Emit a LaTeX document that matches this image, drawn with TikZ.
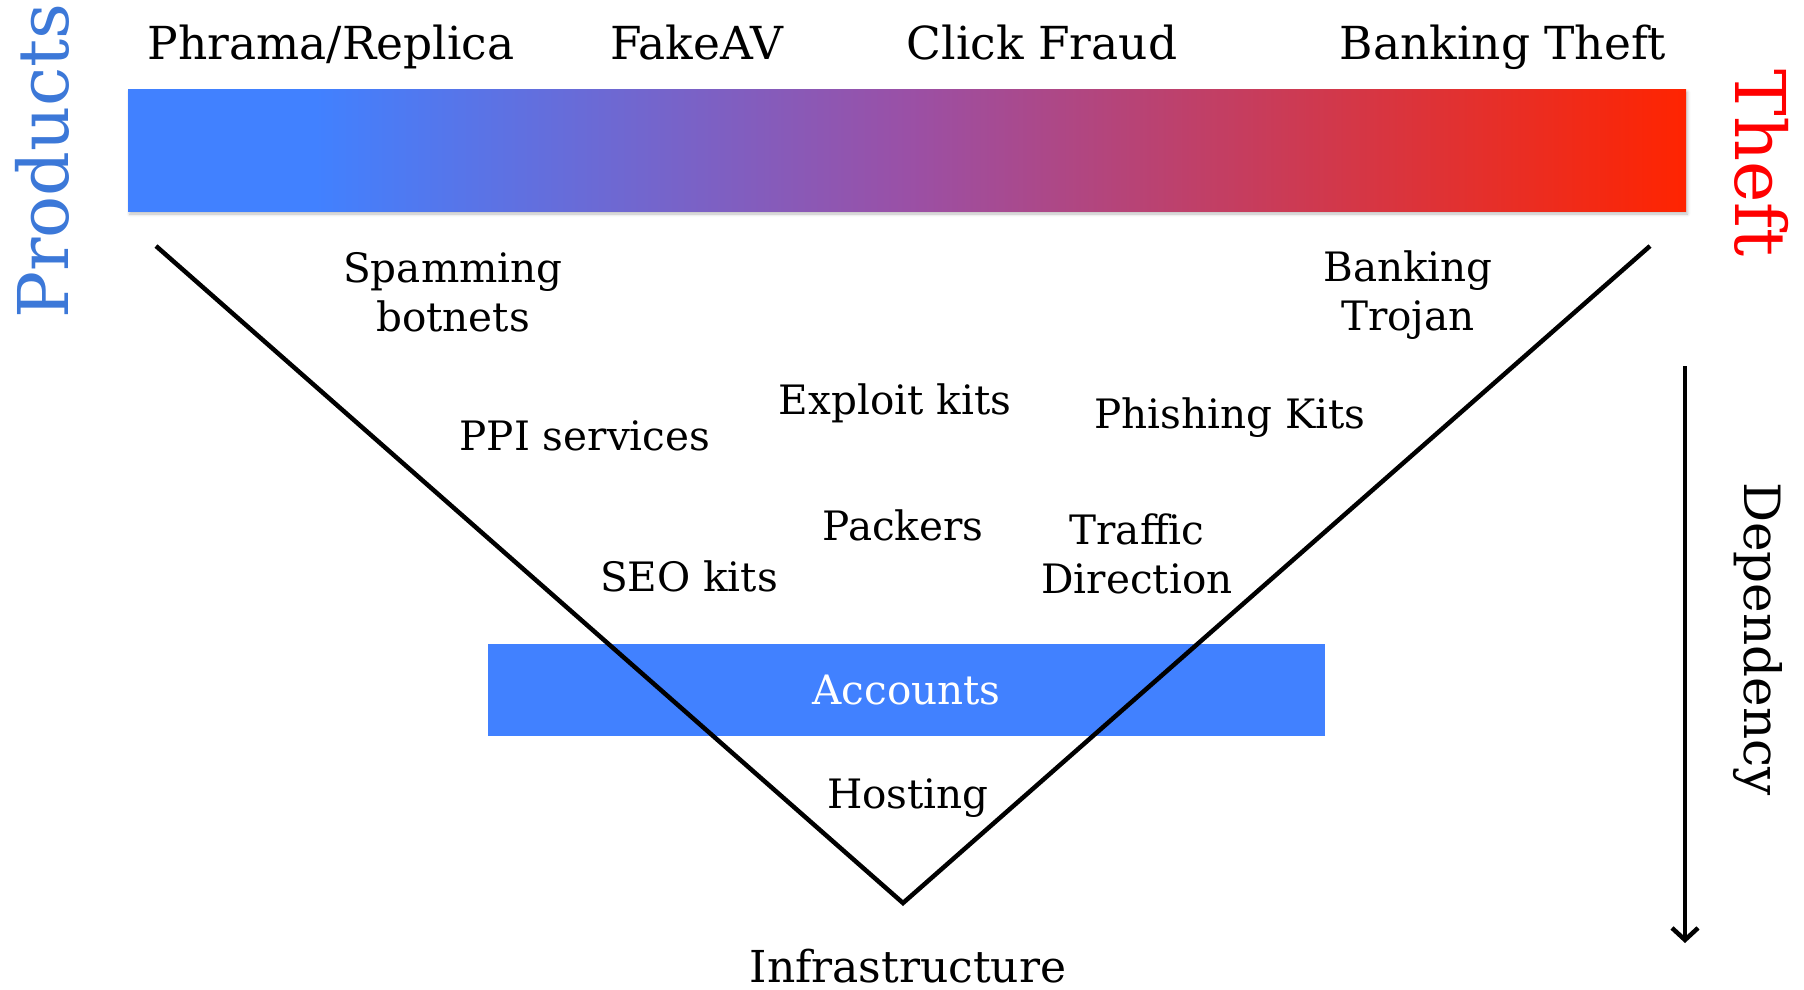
\documentclass[tikz,border=0pt]{standalone}
\usepackage{fontspec}
\setmainfont{DejaVu Serif}
\usetikzlibrary{arrows.meta,shadows.blur}

\definecolor{pblue}{HTML}{4181FF}
\definecolor{ppurple}{HTML}{9A50A6}
\definecolor{pred}{HTML}{FF2400}
\definecolor{prodblue}{HTML}{3C78D8}
\definecolor{theftred}{HTML}{FF0000}

% blue -> purple -> red spectrum for the product/theft bar
\pgfdeclarehorizontalshading{barshade}{100bp}{%
  color(0bp)=(pblue); color(31bp)=(pblue); color(50bp)=(ppurple);
  color(75bp)=(pred); color(100bp)=(pred)}

\begin{document}
\begin{tikzpicture}[x=1pt,y=-1pt,
  lbl/.style={font=\fontsize{40.5}{49}\selectfont, inner sep=0pt, align=center},
  toplbl/.style={font=\fontsize{45.5}{55}\selectfont, inner sep=0pt, anchor=base},
  sidelbl/.style={font=\fontsize{70}{84}\selectfont, inner sep=0pt},
  vline/.style={line width=4.5pt, line join=miter},
  spectrum/.style={shading=barshade, inner sep=0pt,
    blur shadow={shadow xshift=1.5pt, shadow yshift=-3pt, shadow blur radius=3pt, shadow opacity=25}},
  layerbox/.style={fill=pblue, inner sep=0pt, text=white}
]
\useasboundingbox (0,0) rectangle (1804,989);

% axis captions
\node[sidelbl, text=prodblue, rotate=90] (products) at (42,161) {Products};
\node[sidelbl, text=theftred, rotate=-90] (theft) at (1762,163) {Theft};
\node[font=\fontsize{50}{60}\selectfont, inner sep=0pt, rotate=-90] (dependency) at (1758,639) {Dependency};

% top categories
\node[toplbl] (phrama) at (331,59) {Phrama/Replica};
\node[toplbl] (fakeav) at (697,59) {FakeAV};
\node[toplbl] (click) at (1042,59) {Click Fraud};
\node[toplbl] (bank) at (1503,59) {Banking Theft};

% spectrum bar
\node[spectrum, minimum width=1558pt, minimum height=122pt] (bar) at (907,150) {};

% accounts layer
\node[layerbox, minimum width=837pt, minimum height=92pt,
      font=\fontsize{40.5}{49}\selectfont] (accounts) at (906.5,690) {Accounts};

% dependency funnel
\coordinate (vl) at (156,246);
\coordinate (vr) at (1650,246);
\coordinate (vb) at (903,903);
\draw[vline] (vl) -- (vb) -- (vr);

% dependency arrow
\coordinate (dtop) at (1685,366);
\coordinate (dbot) at (1685,943);
\draw[line width=4.5pt, -{Straight Barb[length=12pt,width=26pt]}] (dtop) -- (dbot);

% services inside the funnel
\node[lbl] (spam) at (453,292) {Spamming\\botnets};
\node[lbl] (trojan) at (1408,295) {Banking\\Trojan};
\node[lbl, anchor=base] (ppi) at (585,450) {PPI services};
\node[lbl, anchor=base] (exploit) at (895,414) {Exploit kits};
\node[lbl, anchor=base] (phish) at (1230,428) {Phishing Kits};
\node[lbl, anchor=base] (packers) at (903,540) {Packers};
\node[lbl] (traffic) at (1137,554) {Traffic\\Direction};
\node[lbl, anchor=base] (seo) at (689,591) {SEO kits};
\node[lbl, anchor=base] (hosting) at (908,808) {Hosting};
\node[font=\fontsize{44}{53}\selectfont, inner sep=0pt, anchor=base] (infra) at (908,982) {Infrastructure};
\end{tikzpicture}
\end{document}
